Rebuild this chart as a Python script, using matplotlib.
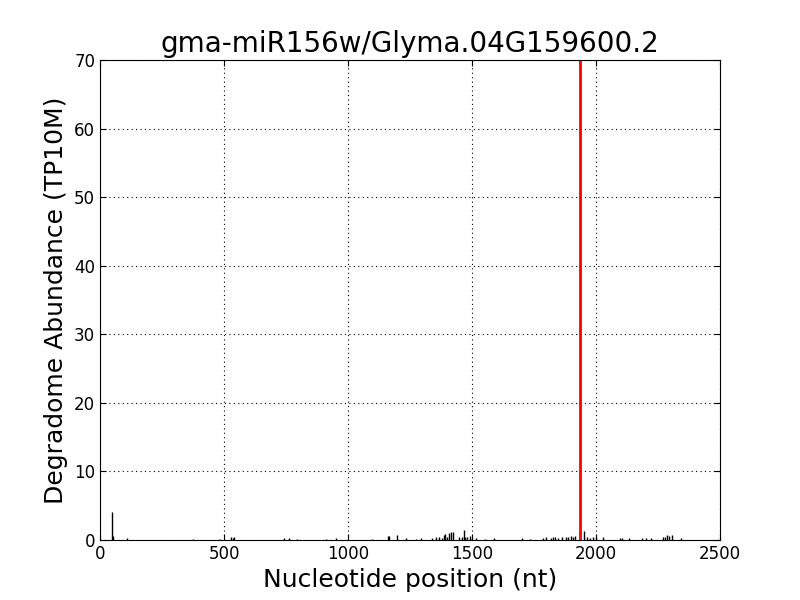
import numpy as np
import matplotlib
matplotlib.use("Agg")
import matplotlib.pyplot as plt

# Degradome tags: position (nt) and abundance (TP10M)
positions = np.array([50, 53, 109, 376, 480, 527, 535, 541, 743, 762, 795,
                      911, 950, 1095, 1161, 1164, 1196, 1234, 1273, 1293, 1337,
                      1354, 1368, 1379, 1387, 1392, 1398, 1407, 1414, 1425,
                      1449, 1460, 1466, 1473, 1481, 1492, 1500, 1515, 1553, 1590,
                      1700, 1734, 1785, 1797, 1817, 1828, 1836, 1847, 1864, 1878,
                      1888, 1899, 1907, 1915, 1953, 1965, 1976, 1989, 2002, 2029,
                      2097, 2106, 2133, 2187, 2202, 2220, 2270, 2278, 2287, 2296,
                      2305, 2341])
abundance = np.array([4.1, 0.6, 0.3, 0.2, 0.2, 0.4, 0.3, 0.4, 0.3, 0.3, 0.2,
                      0.2, 0.3, 0.2, 0.6, 0.6, 0.7, 0.3, 0.2, 0.3, 0.3,
                      0.4, 0.5, 0.3, 0.7, 0.9, 0.5, 1.0, 1.1, 1.1,
                      0.4, 0.5, 1.5, 0.5, 0.4, 0.6, 0.3, 0.3, 0.2, 0.3,
                      0.3, 0.2, 0.3, 0.5, 0.3, 0.4, 0.5, 0.3, 0.4, 0.4,
                      0.5, 0.6, 0.4, 0.6, 1.3, 0.5, 0.3, 0.5, 0.5, 0.4,
                      0.3, 0.3, 0.3, 0.3, 0.3, 0.3, 0.5, 0.5, 0.7, 0.6,
                      0.8, 0.3])
cleavage_site = 1935

fig = plt.figure(figsize=(8, 6), dpi=100, facecolor="white")
ax = fig.add_axes([0.125, 0.1, 0.775, 0.8])

ax.vlines(positions, 0, abundance, color="black", linewidth=1)
ax.axvline(cleavage_site, color="red", linewidth=2)

ax.set_xlim(0, 2500)
ax.set_ylim(0, 70)
ax.set_xticks(np.arange(0, 2501, 500))
ax.set_yticks(np.arange(0, 71, 10))
ax.grid(True, color="black", linestyle=(0, (1, 3)), linewidth=0.8)
ax.tick_params(direction="in", top=True, right=True, labelsize=12, length=4)

ax.set_title("gma-miR156w/Glyma.04G159600.2", fontsize=20)
ax.set_xlabel("Nucleotide position (nt)", fontsize=18)
ax.set_ylabel("Degradome Abundance (TP10M)", fontsize=18)

fig.savefig("out.png", dpi=100, facecolor="white")
